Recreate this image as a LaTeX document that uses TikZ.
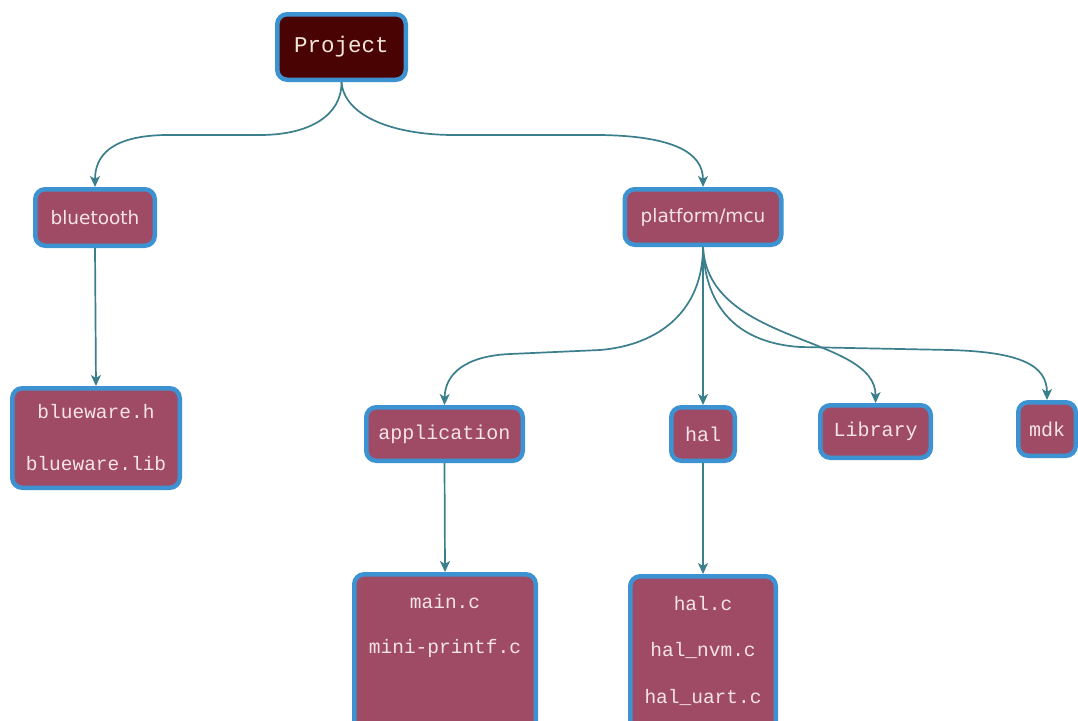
\documentclass[tikz,border=0pt]{standalone}
\usepackage{fontspec}
\setmainfont{Liberation Mono}
\newfontfamily\sansf{DejaVu Sans}
\usetikzlibrary{arrows.meta}
\definecolor{boxfill}{HTML}{A04B66}
\definecolor{boxline}{HTML}{3D93D1}
\definecolor{projfill}{HTML}{4A0303}
\definecolor{conncol}{HTML}{3B7F8C}
\definecolor{txt}{HTML}{F5E3EA}
\definecolor{projtxt}{HTML}{F3E6D6}
\begin{document}
\begin{tikzpicture}[x=1pt,y=-1pt,
  box/.style={draw=boxline, line width=4.5pt, fill=boxfill, rounded corners=10pt, text=txt, inner sep=0pt},
  mono/.style={font=\fontsize{20}{24}\selectfont},
  sans/.style={font=\sansf\fontsize{18.5}{22}\selectfont},
  conn/.style={draw=conncol, line width=1.7pt, -{Stealth[length=11pt,width=10pt,inset=3pt]}},
  ftext/.style={text=txt, align=center, inner sep=0pt},
]
\useasboundingbox (0,0) rectangle (1078,720);
\fill[white] (0,0) rectangle (1078,720);

\node[box, fill=projfill, text=projtxt, minimum width=128.5pt, minimum height=65.5pt, font=\fontsize{22.5}{26}\selectfont] (project) at (341.5,47) {Project};
\node[box, sans, minimum width=119.5pt, minimum height=56.5pt] (bluetooth) at (95,217.5) {bluetooth};
\node[box, sans, minimum width=156.5pt, minimum height=55.5pt] (platform) at (703,217) {platform/mcu};
\node[box, minimum width=167.5pt, minimum height=99.5pt, align=center, font=\fontsize{19.5}{52}\selectfont] (blueware) at (96,438) {blueware.h\\blueware.lib};
\node[box, mono, minimum width=156.5pt, minimum height=53.5pt] (application) at (444.5,434) {application};
\node[box, mono, minimum width=63.5pt, minimum height=53.5pt] (hal) at (703,434) {hal};
\node[box, mono, minimum width=110.5pt, minimum height=52.5pt] (library) at (875.5,431.5) {Library};
\node[box, mono, minimum width=57.5pt, minimum height=53.5pt] (mdk) at (1047,429) {mdk};
\node[box, minimum width=181.5pt, minimum height=163.5pt] (mainbox) at (445,656) {};
\node[ftext, font=\fontsize{19.5}{45}\selectfont] (maintext) at (445,625.5) {main.c\\mini-printf.c};
\node[box, minimum width=145.5pt, minimum height=161.5pt] (halbox) at (703,657) {};
\node[ftext, font=\fontsize{19.5}{46.5}\selectfont] (haltext) at (703,650.5) {hal.c\\hal\_nvm.c\\hal\_uart.c};

\draw[conn] (project.south) .. controls (342,115) and (310,135) .. (260,135) -- (165,135) .. controls (112,136) and (95,155) .. (bluetooth.north);
\draw[conn] (project.south) .. controls (344,115) and (390,134) .. (450,135) -- (600,135) .. controls (672,136) and (703,152) .. (platform.north);
\draw[conn] (bluetooth.south) -- (blueware.north);
\draw[conn] (platform.south) .. controls (703,310) and (660,345) .. (600,350) -- (510,354) .. controls (465,356) and (445,374) .. (application.north);
\draw[conn] (platform.south) -- (hal.north);
\draw[conn] (platform.south) .. controls (708,345) and (876,335) .. (library.north);
\draw[conn] (platform.south) .. controls (705,310) and (740,343) .. (800,347) -- (950,350) .. controls (1020,352) and (1047,365) .. (mdk.north);
\draw[conn] (application.south) -- (mainbox.north);
\draw[conn] (hal.south) -- (halbox.north);
\end{tikzpicture}
\end{document}
